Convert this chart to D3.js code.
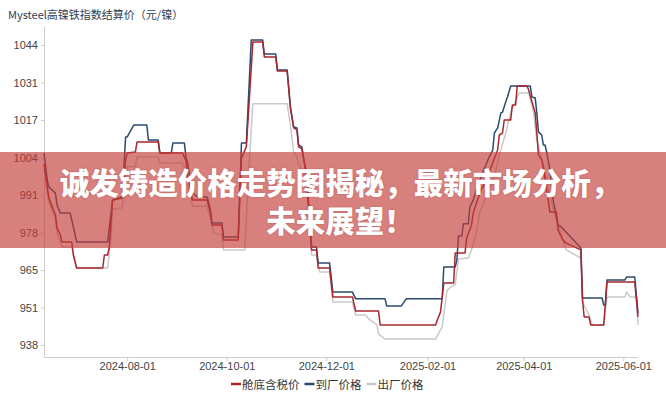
<!DOCTYPE html>
<html><head><meta charset="utf-8">
<script src="https://cdn.jsdelivr.net/npm/d3@7"></script>
<style>body{margin:0;background:#fff;} svg{display:block}</style>
</head><body>
<svg id="c" width="666" height="400"></svg>
<script>
const chartTitle = "Mysteel高镍铁指数结算价（元/镍）";
const bannerLines = ["诚发铸造价格走势图揭秘，最新市场分析，", "未来展望！"];
const seriesNames = ["舱底含税价", "到厂价格", "出厂价格"];
const xTickDates = ["2024-08-01", "2024-10-01", "2024-12-01", "2025-02-01", "2025-04-01", "2025-06-01"];
const yTickLabels = ["938", "951", "965", "978", "991", "1004", "1017", "1031", "1044"];
const dateRange = ["2024-06-11", "2025-06-10"];

const redData = [
["2024-06-11",1002.0],["2024-06-13",993.8],["2024-06-14",989.9],["2024-06-18",983.9],["2024-06-19",979.3],
["2024-06-21",976.9],["2024-06-22",974.4],["2024-06-28",974.4],["2024-06-29",969.8],["2024-07-01",965.2],
["2024-07-17",965.2],["2024-07-18",969.8],["2024-07-20",969.8],["2024-07-21",972.6],["2024-07-23",989.2],
["2024-07-29",989.9],["2024-07-31",1003.4],["2024-08-01",1005.8],["2024-08-06",1006.2],["2024-08-07",1009.7],
["2024-08-20",1009.7],["2024-08-21",1005.8],["2024-09-04",1005.8],["2024-09-06",1003.0],["2024-09-07",998.0],
["2024-09-10",989.2],["2024-09-19",989.2],["2024-09-21",984.6],["2024-09-22",980.4],["2024-09-28",980.4],
["2024-09-29",975.1],["2024-10-08",975.1],["2024-10-10",1004.0],["2024-10-13",1008.0],["2024-10-17",1045.1],
["2024-10-23",1045.1],["2024-10-24",1039.8],["2024-10-31",1039.8],["2024-11-01",1034.8],["2024-11-07",1034.8],
["2024-11-09",1021.7],["2024-11-11",1014.7],["2024-11-13",1014.0],["2024-11-14",1008.0],["2024-11-16",1007.3],
["2024-11-17",1004.1],["2024-11-19",997.0],["2024-11-20",988.0],["2024-11-22",971.6],["2024-11-25",971.6],
["2024-11-26",965.2],["2024-12-03",965.2],["2024-12-05",955.0],["2024-12-17",955.0],["2024-12-19",950.0],
["2025-01-02",950.0],["2025-01-03",945.1],["2025-02-06",945.1],["2025-02-07",946.8],["2025-02-09",949.7],
["2025-02-11",959.9],["2025-02-17",959.9],["2025-02-18",970.5],["2025-02-24",970.5],["2025-02-25",975.8],
["2025-02-28",980.4],["2025-03-01",984.6],["2025-03-03",988.2],["2025-03-06",993.0],["2025-03-09",996.0],
["2025-03-12",1000.9],["2025-03-16",1006.9],["2025-03-17",1012.2],["2025-03-19",1012.9],["2025-03-20",1017.5],
["2025-03-24",1017.5],["2025-03-25",1022.8],["2025-03-27",1022.8],["2025-03-28",1029.5],["2025-04-03",1029.5],
["2025-04-04",1028.1],["2025-04-06",1024.0],["2025-04-08",1020.0],["2025-04-09",1012.9],["2025-04-10",1005.1],
["2025-04-12",1003.4],["2025-04-13",1000.9],["2025-04-16",989.2],["2025-04-17",985.0],["2025-04-21",985.0],
["2025-04-22",978.6],["2025-04-25",975.1],["2025-04-27",974.0],["2025-05-06",971.6],["2025-05-07",954.0],
["2025-05-08",947.9],["2025-05-11",947.9],["2025-05-12",945.1],["2025-05-20",945.1],["2025-05-22",960.3],
["2025-06-08",960.3],["2025-06-10",948.0]
];

const blueData = [
["2024-06-11",1005.8],["2024-06-13",996.3],["2024-06-14",993.8],["2024-06-18",991.7],["2024-06-19",987.5],
["2024-06-21",984.6],["2024-06-27",984.6],["2024-06-28",982.2],["2024-06-29",979.7],["2024-07-01",974.4],
["2024-07-20",974.4],["2024-07-21",979.3],["2024-07-23",989.2],["2024-07-29",990.3],["2024-07-31",1011.5],
["2024-08-01",1011.5],["2024-08-05",1015.7],["2024-08-13",1015.7],["2024-08-14",1010.4],["2024-08-20",1010.4],
["2024-08-21",1005.8],["2024-08-28",1005.8],["2024-08-29",1009.4],["2024-09-05",1009.4],["2024-09-06",1004.4],
["2024-09-07",1002.3],["2024-09-10",991.7],["2024-09-13",990.3],["2024-09-19",990.3],["2024-09-21",985.7],
["2024-09-22",981.1],["2024-09-28",981.1],["2024-09-29",976.2],["2024-10-08",976.2],["2024-10-10",1009.4],
["2024-10-13",1009.4],["2024-10-16",1045.8],["2024-10-23",1045.8],["2024-10-24",1040.8],["2024-10-31",1040.8],
["2024-11-01",1035.2],["2024-11-07",1035.2],["2024-11-09",1022.1],["2024-11-11",1015.0],["2024-11-13",1014.7],
["2024-11-14",1008.7],["2024-11-16",1008.0],["2024-11-17",1004.4],["2024-11-19",998.1],["2024-11-20",989.2],
["2024-11-22",972.6],["2024-11-25",972.6],["2024-11-26",967.0],["2024-12-03",967.0],["2024-12-05",956.7],
["2024-12-17",956.7],["2024-12-19",954.3],["2025-01-06",954.3],["2025-01-07",951.8],["2025-01-16",951.8],
["2025-01-19",954.3],["2025-02-10",954.3],["2025-02-11",965.6],["2025-02-18",965.6],["2025-02-19",968.0],
["2025-02-20",976.5],["2025-02-22",976.5],["2025-02-23",980.8],["2025-02-26",980.8],["2025-02-27",986.8],
["2025-03-01",989.2],["2025-03-04",994.5],["2025-03-07",999.1],["2025-03-10",1003.4],["2025-03-13",1006.9],
["2025-03-14",1012.9],["2025-03-16",1014.7],["2025-03-18",1020.0],["2025-03-19",1020.3],["2025-03-21",1024.0],
["2025-03-22",1025.6],["2025-03-24",1029.5],["2025-04-05",1029.5],["2025-04-06",1025.6],["2025-04-08",1025.3],
["2025-04-09",1020.0],["2025-04-10",1013.3],["2025-04-12",1012.2],["2025-04-13",1008.7],["2025-04-14",1008.7],
["2025-04-15",1006.2],["2025-04-17",999.8],["2025-04-18",994.5],["2025-04-19",989.2],["2025-04-22",980.4],
["2025-04-24",979.7],["2025-05-06",972.3],["2025-05-07",954.6],["2025-05-19",954.6],["2025-05-20",952.1],
["2025-05-21",952.1],["2025-05-22",961.0],["2025-06-02",961.0],["2025-06-03",962.0],["2025-06-08",962.0],
["2025-06-10",949.3]
];

const grayData = [
["2024-06-11",1000.0],["2024-06-13",991.7],["2024-06-14",988.5],["2024-06-18",982.5],["2024-06-19",977.6],
["2024-06-22",972.6],["2024-06-28",972.6],["2024-07-01",965.2],["2024-07-20",965.2],["2024-07-22",976.0],
["2024-07-23",986.0],["2024-07-29",986.5],["2024-07-31",998.0],["2024-08-01",1001.0],["2024-08-06",1001.0],
["2024-08-07",1004.4],["2024-08-20",1004.4],["2024-08-21",1002.3],["2024-09-04",1002.3],["2024-09-06",999.5],
["2024-09-07",995.0],["2024-09-10",987.0],["2024-09-19",987.0],["2024-09-21",982.5],["2024-09-23",977.6],
["2024-09-28",977.0],["2024-09-29",971.6],["2024-10-12",971.6],["2024-10-15",1004.4],["2024-10-17",1023.2],
["2024-11-07",1023.2],["2024-11-09",1015.7],["2024-11-11",1006.2],["2024-11-13",1004.4],["2024-11-14",1002.0],
["2024-11-17",999.0],["2024-11-19",993.0],["2024-11-20",985.0],["2024-11-22",969.8],["2024-11-25",969.8],
["2024-11-27",963.8],["2024-12-03",963.8],["2024-12-05",953.2],["2024-12-17",953.2],["2024-12-19",948.6],
["2024-12-25",948.6],["2024-12-27",947.2],["2025-01-01",945.1],["2025-01-02",941.9],["2025-01-06",940.1],
["2025-02-06",940.1],["2025-02-10",944.4],["2025-02-13",957.4],["2025-02-17",959.2],["2025-02-18",959.2],
["2025-02-20",968.4],["2025-02-26",968.7],["2025-02-28",971.6],["2025-03-03",977.6],["2025-03-05",984.6],
["2025-03-08",989.2],["2025-03-13",995.6],["2025-03-17",1005.0],["2025-03-21",1013.0],["2025-03-24",1020.3],
["2025-03-29",1027.0],["2025-04-04",1027.0],["2025-04-07",1020.3],["2025-04-09",1010.4],["2025-04-13",1001.6],
["2025-04-17",991.0],["2025-04-20",984.0],["2025-04-24",977.0],["2025-04-27",971.6],["2025-05-06",968.7],
["2025-05-07",953.2],["2025-05-11",948.6],["2025-05-13",945.1],["2025-05-20",945.1],["2025-05-22",955.0],
["2025-06-02",955.0],["2025-06-03",956.7],["2025-06-05",955.0],["2025-06-09",955.0],["2025-06-10",945.1]
];

const colors = ["#a8262f", "#2b4a6c", "#c9c9c9"];

const svg = d3.select("#c");
const W = 666, H = 400;
const m = {left: 44, right: 28, top: 27, bottom: 43};
const parse = d3.timeParse("%Y-%m-%d");
const fmt = d3.timeFormat("%Y-%m-%d");

const x = d3.scaleTime().domain(dateRange.map(parse)).range([m.left, W - m.right]);
const yMin = +yTickLabels[0], yMax = +yTickLabels[yTickLabels.length - 1];
const y = d3.scaleLinear().domain([yMin, yMax]).range([345, 45]);
const yTickVals = yTickLabels.map((d, i) => yMin + i * (yMax - yMin) / (yTickLabels.length - 1));

// title
svg.append("text").attr("x", 8).attr("y", 14).attr("dominant-baseline", "central")
  .attr("font-family", "'Noto Sans CJK SC', 'Noto Sans', sans-serif").attr("font-size", 11)
  .attr("fill", "#2e3d55").text(chartTitle);

// axes
const yAxis = d3.axisLeft(y).tickValues(yTickVals).tickSize(3).tickPadding(3)
  .tickFormat((d, i) => yTickLabels[i]);
const gy = svg.append("g").attr("transform", `translate(${m.left},0)`).call(yAxis);
gy.select(".domain").remove();
gy.selectAll(".tick line").attr("stroke", "#ccc");
gy.selectAll(".tick text").attr("font-family", "'Liberation Sans', Arial, sans-serif")
  .attr("font-size", 11).attr("fill", "#444");
svg.append("line").attr("x1", m.left + 0.5).attr("x2", m.left + 0.5).attr("y1", m.top).attr("y2", H - m.bottom)
  .attr("stroke", "#ccc");

const xAxis = d3.axisBottom(x).tickValues(xTickDates.map(parse)).tickSize(4).tickPadding(1).tickFormat(fmt);
const gx = svg.append("g").attr("transform", `translate(0,${H - m.bottom})`).call(xAxis);
gx.select(".domain").attr("stroke", "#ccc").attr("d", `M${m.left},0.5H${W - m.right}`);
gx.selectAll(".tick line").attr("stroke", "#ccc");
gx.selectAll(".tick text").attr("font-family", "'Liberation Sans', Arial, sans-serif")
  .attr("font-size", 11).attr("fill", "#444");

// lines
const line = d3.line().x(d => x(parse(d[0]))).y(d => y(d[1]));
[[grayData, 2], [blueData, 1], [redData, 0]].forEach(([data, ci]) => {
  svg.append("path").datum(data).attr("d", line).attr("fill", "none")
    .attr("stroke", colors[ci]).attr("stroke-width", 1.5).attr("stroke-linejoin", "round");
});

// legend
const lg = svg.append("g");
let lx = 231;
seriesNames.forEach((name, i) => {
  lg.append("line").attr("x1", lx).attr("x2", lx + 10).attr("y1", 384).attr("y2", 384)
    .attr("stroke", colors[i]).attr("stroke-width", 2.5);
  const t = lg.append("text").attr("x", lx + 11).attr("y", 384).attr("dominant-baseline", "central")
    .attr("font-family", "'Noto Sans CJK SC', sans-serif").attr("font-size", 11.5).attr("fill", "#333")
    .text(name);
  lx += 11 + t.node().getComputedTextLength() + 5;
});

// banner overlay
svg.append("rect").attr("x", 0).attr("y", 152).attr("width", W).attr("height", 96)
  .attr("fill", "rgb(195,60,55)").attr("fill-opacity", 0.65);
bannerLines.forEach((t, i) => {
  svg.append("text").attr("x", 340).attr("y", 181 + i * 38).attr("text-anchor", "middle")
    .attr("dominant-baseline", "central")
    .attr("font-family", "'Noto Sans CJK SC', sans-serif").attr("font-weight", 900)
    .attr("font-size", 29.5).attr("fill", "#fff")
    .style("text-shadow", "0 0 2px rgba(120,30,30,0.35)")
    .text(t);
});
</script>
</body></html>
